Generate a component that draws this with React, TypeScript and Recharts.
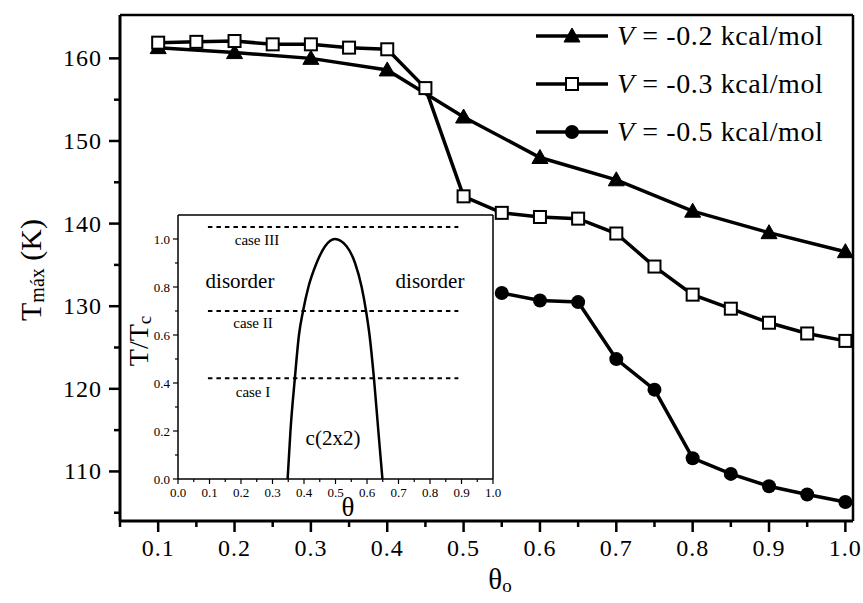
import React from 'react';
import { LineChart, Line, XAxis, YAxis, Legend, ReferenceLine } from 'recharts';

const FONT = '"Liberation Serif", "Times New Roman", Times, serif';

// ---------- main chart data ----------
const thetaV02 = [0.1, 0.2, 0.3, 0.4, 0.5, 0.6, 0.7, 0.8, 0.9, 1.0];
const tmaxV02 = [161.3, 160.7, 160.0, 158.6, 152.9, 148.0, 145.3, 141.5, 138.9, 136.6];

const thetaV03 = [0.1, 0.15, 0.2, 0.25, 0.3, 0.35, 0.4, 0.45, 0.5, 0.55, 0.6, 0.65, 0.7, 0.75, 0.8, 0.85, 0.9, 0.95, 1.0];
const tmaxV03 = [161.9, 162.0, 162.1, 161.7, 161.7, 161.3, 161.1, 156.4, 143.3, 141.3, 140.8, 140.6, 138.8, 134.8, 131.4, 129.7, 128.0, 126.7, 125.8];

const thetaV05 = [0.55, 0.6, 0.65, 0.7, 0.75, 0.8, 0.85, 0.9, 0.95, 1.0];
const tmaxV05 = [131.6, 130.7, 130.5, 123.6, 119.9, 111.6, 109.7, 108.2, 107.2, 106.3];

const seriesValues = ['-0.2', '-0.3', '-0.5'];
const markerKinds = ['triangle', 'square', 'circle'];

const xTicks = [0.05, 0.1, 0.15, 0.2, 0.25, 0.3, 0.35, 0.4, 0.45, 0.5, 0.55, 0.6, 0.65, 0.7, 0.75, 0.8, 0.85, 0.9, 0.95, 1.0];
const yTicks = [105, 110, 115, 120, 125, 130, 135, 140, 145, 150, 155, 160];

// ---------- inset data ----------
const domeTheta = [0.348, 0.357, 0.371, 0.384, 0.397, 0.414, 0.44, 0.467, 0.498, 0.535, 0.562, 0.583, 0.597, 0.608, 0.622, 0.636, 0.649];
const domeT = [0, 0.2, 0.42, 0.6, 0.7, 0.8, 0.9, 0.97, 1.0, 0.97, 0.9, 0.8, 0.7, 0.6, 0.42, 0.2, 0];
const caseLevels = [1.05, 0.7, 0.42];
const caseNames = ['case III', 'case II', 'case I'];
const caseRange = [0.095, 0.89];
const insetXTicks = [0, 0.05, 0.1, 0.15, 0.2, 0.25, 0.3, 0.35, 0.4, 0.45, 0.5, 0.55, 0.6, 0.65, 0.7, 0.75, 0.8, 0.85, 0.9, 0.95, 1.0];
const insetYTicks = [0, 0.1, 0.2, 0.3, 0.4, 0.5, 0.6, 0.7, 0.8, 0.9, 1.0];

const zip = (xs: number[], ys: number[]) => xs.map((x, i) => ({ x, y: ys[i] }));
const dataV02 = zip(thetaV02, tmaxV02);
const dataV03 = zip(thetaV03, tmaxV03);
const dataV05 = zip(thetaV05, tmaxV05);
const domeData = zip(domeTheta, domeT);

// ---------- markers ----------
const TriangleDot = (props: any) => {
  const { cx, cy } = props;
  if (cx == null || cy == null) return null;
  return <path d={`M${cx},${cy - 8} L${cx + 8},${cy + 6} L${cx - 8},${cy + 6} Z`} fill="#000" stroke="#000" strokeWidth={1} />;
};
const SquareDot = (props: any) => {
  const { cx, cy } = props;
  if (cx == null || cy == null) return null;
  return <rect x={cx - 6} y={cy - 6} width={12} height={12} fill="#fff" stroke="#000" strokeWidth={2} />;
};
const CircleDot = (props: any) => {
  const { cx, cy } = props;
  if (cx == null || cy == null) return null;
  return <circle cx={cx} cy={cy} r={7} fill="#000" />;
};
const markerFor = (kind: string, cx: number, cy: number) => {
  if (kind === 'triangle') return <TriangleDot cx={cx} cy={cy} />;
  if (kind === 'square') return <SquareDot cx={cx} cy={cy} />;
  return <CircleDot cx={cx} cy={cy} />;
};

// ---------- ticks ----------
const isMajor = (v: number) => Math.round(v * 100) % 10 === 0;

const MainXTick = (props: any) => {
  const { x, y, payload } = props;
  const v = payload.value;
  const major = isMajor(v);
  return (
    <g>
      <line x1={x} y1={y} x2={x} y2={y + (major ? 11 : 6)} stroke="#000" strokeWidth={2.5} />
      {major && (
        <text x={x} y={y + 35} textAnchor="middle" fontFamily={FONT} fontSize={24} letterSpacing={1}>
          {v.toFixed(1)}
        </text>
      )}
    </g>
  );
};

const MainYTick = (props: any) => {
  const { x, y, payload } = props;
  const v = payload.value;
  const major = v % 10 === 0;
  return (
    <g>
      <line x1={x} y1={y} x2={x - (major ? 11 : 6)} y2={y} stroke="#000" strokeWidth={2.5} />
      {major && (
        <text x={x - 18} y={y + 8} textAnchor="end" fontFamily={FONT} fontSize={24} letterSpacing={1}>
          {v}
        </text>
      )}
    </g>
  );
};

const InsetXTick = (props: any) => {
  const { x, y, payload } = props;
  const v = payload.value;
  const major = isMajor(v);
  return (
    <g>
      <line x1={x} y1={y} x2={x} y2={y + (major ? 5 : 3)} stroke="#000" strokeWidth={1.2} />
      {major && (
        <text x={x} y={y + 18} textAnchor="middle" fontFamily={FONT} fontSize={13}>
          {v.toFixed(1)}
        </text>
      )}
    </g>
  );
};

const InsetYTick = (props: any) => {
  const { x, y, payload } = props;
  const v = payload.value;
  const major = Math.round(v * 10) % 2 === 0;
  return (
    <g>
      <line x1={x} y1={y} x2={x - (major ? 5 : 3)} y2={y} stroke="#000" strokeWidth={1.2} />
      {major && (
        <text x={x - 8} y={y + 4.5} textAnchor="end" fontFamily={FONT} fontSize={13}>
          {v.toFixed(1)}
        </text>
      )}
    </g>
  );
};

// ---------- legend ----------
const LegendContent = (props: any) => {
  const payload = props.payload || [];
  const rowY = [22, 70, 118];
  return (
    <svg width={330} height={150} style={{ overflow: 'visible' }}>
      {payload.map((entry: any, i: number) => {
        const idx = seriesValues.findIndex((s) => entry.value && String(entry.value).indexOf(s) >= 0);
        const k = idx >= 0 ? idx : i;
        const cy = rowY[i];
        return (
          <g key={`leg-${i}`}>
            <line x1={6} y1={cy} x2={78} y2={cy} stroke="#000" strokeWidth={3.5} />
            {markerFor(markerKinds[k], 42, cy)}
            <text x={87} y={cy + 9} fontFamily={FONT} fontSize={28} letterSpacing={0.6}>
              <tspan fontStyle="italic">V</tspan>
              {` = ${seriesValues[k]} kcal/mol`}
            </text>
          </g>
        );
      })}
    </svg>
  );
};

export default function App() {
  return (
    <div style={{ position: 'absolute', left: 0, top: 0, width: 863, height: 603, background: '#fff' }}>
      <div style={{ position: 'absolute', left: 0, top: 0 }}>
        <LineChart width={863} height={603} margin={{ top: 0, right: 0, bottom: 0, left: 0 }}>
          <XAxis
            xAxisId="b"
            dataKey="x"
            type="number"
            domain={[0.05, 1.01]}
            ticks={xTicks}
            interval={0}
            height={82}
            allowDataOverflow
            tickLine={false}
            tickSize={0}
            tickMargin={0}
            tick={<MainXTick />}
            axisLine={{ stroke: '#000', strokeWidth: 3 }}
          />
          <XAxis
            xAxisId="t"
            orientation="top"
            dataKey="x"
            type="number"
            domain={[0.05, 1.01]}
            height={15}
            allowDataOverflow
            tick={false}
            tickLine={false}
            axisLine={{ stroke: '#000', strokeWidth: 2.5 }}
          />
          <YAxis
            yAxisId="l"
            type="number"
            domain={[104, 165.25]}
            ticks={yTicks}
            interval={0}
            width={120}
            allowDataOverflow
            tickLine={false}
            tickSize={0}
            tickMargin={0}
            tick={<MainYTick />}
            axisLine={{ stroke: '#000', strokeWidth: 3 }}
          />
          <YAxis
            yAxisId="r"
            orientation="right"
            type="number"
            domain={[104, 165.25]}
            width={10}
            allowDataOverflow
            tick={false}
            tickLine={false}
            axisLine={{ stroke: '#000', strokeWidth: 2.5 }}
          />
          <Legend
            layout="vertical"
            align="center"
            verticalAlign="middle"
            wrapperStyle={{ position: 'absolute', left: 530, top: 14, width: 330, height: 150 }}
            content={<LegendContent />}
          />
          <Line
            xAxisId="b"
            yAxisId="l"
            data={dataV02}
            dataKey="y"
            name="V = -0.2 kcal/mol"
            stroke="#000"
            strokeWidth={3.5}
            dot={<TriangleDot />}
            isAnimationActive={false}
            type="linear"
          />
          <Line
            xAxisId="b"
            yAxisId="l"
            data={dataV03}
            dataKey="y"
            name="V = -0.3 kcal/mol"
            stroke="#000"
            strokeWidth={3.5}
            dot={<SquareDot />}
            isAnimationActive={false}
            type="linear"
          />
          <Line
            xAxisId="b"
            yAxisId="l"
            data={dataV05}
            dataKey="y"
            name="V = -0.5 kcal/mol"
            stroke="#000"
            strokeWidth={3.5}
            dot={<CircleDot />}
            isAnimationActive={false}
            type="linear"
          />
        </LineChart>
      </div>

      <div style={{ position: 'absolute', left: 122, top: 205 }}>
        <LineChart width={380} height={318} margin={{ top: 10, right: 9, bottom: 0, left: 0 }}>
          <XAxis
            dataKey="x"
            type="number"
            domain={[0, 1]}
            ticks={insetXTicks}
            interval={0}
            height={44}
            allowDataOverflow
            tickLine={false}
            tickSize={0}
            tickMargin={0}
            tick={<InsetXTick />}
            axisLine={{ stroke: '#000', strokeWidth: 1.5 }}
          />
          <YAxis
            type="number"
            domain={[0, 1.1]}
            ticks={insetYTicks}
            interval={0}
            width={56}
            allowDataOverflow
            tickLine={false}
            tickSize={0}
            tickMargin={0}
            tick={<InsetYTick />}
            axisLine={{ stroke: '#000', strokeWidth: 1.5 }}
          />
          <ReferenceLine y={1.1} stroke="#000" strokeWidth={1.5} />
          <ReferenceLine x={1} stroke="#000" strokeWidth={1.5} />
          {caseLevels.map((lv, i) => (
            <Line
              key={`case-${i}`}
              data={[{ x: caseRange[0], y: lv }, { x: caseRange[1], y: lv }]}
              dataKey="y"
              name={caseNames[i]}
              stroke="#000"
              strokeWidth={2}
              strokeDasharray="4.5 4"
              dot={false}
              isAnimationActive={false}
              type="linear"
            />
          ))}
          <Line
            data={domeData}
            dataKey="y"
            name="c(2x2) boundary"
            stroke="#000"
            strokeWidth={2.5}
            dot={false}
            isAnimationActive={false}
            type="monotoneX"
          />
        </LineChart>
      </div>

      <svg
        width={863}
        height={603}
        style={{ position: 'absolute', left: 0, top: 0, pointerEvents: 'none' }}
      >
        {/* main axis titles */}
        <text transform="rotate(-90, 30, 270)" x={30} y={270} textAnchor="middle" dominantBaseline="central" fontFamily={FONT} fontSize={30}>
          T<tspan fontSize={20} dy={7}>máx</tspan>
          <tspan dy={-7}> (K)</tspan>
        </text>
        <text x={500} y={589} textAnchor="middle" fontFamily={FONT} fontSize={29}>
          θ<tspan fontSize={19} dy={3}>o</tspan>
        </text>
        {/* inset axis titles */}
        <text x={348} y={516} textAnchor="middle" fontFamily={FONT} fontSize={27}>θ</text>
        <text transform="rotate(-90, 138, 341)" x={138} y={341} textAnchor="middle" dominantBaseline="central" fontFamily={FONT} fontSize={28}>
          T/T<tspan fontSize={19} dy={6}>c</tspan>
        </text>
        {/* inset annotations */}
        <text x={257} y={245} textAnchor="middle" fontFamily={FONT} fontSize={15}>{caseNames[0]}</text>
        <text x={253} y={328} textAnchor="middle" fontFamily={FONT} fontSize={15}>{caseNames[1]}</text>
        <text x={253} y={397} textAnchor="middle" fontFamily={FONT} fontSize={15}>{caseNames[2]}</text>
        <text x={240} y={288} textAnchor="middle" fontFamily={FONT} fontSize={21}>disorder</text>
        <text x={430} y={288} textAnchor="middle" fontFamily={FONT} fontSize={21}>disorder</text>
        <text x={333} y={445} textAnchor="middle" fontFamily={FONT} fontSize={21}>c(2x2)</text>
      </svg>
    </div>
  );
}
